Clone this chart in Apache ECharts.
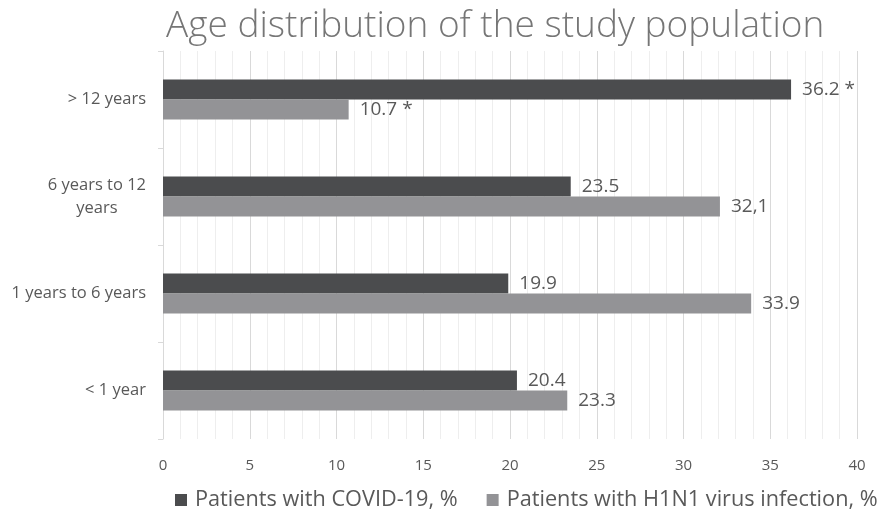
<!DOCTYPE html>
<html>
<head>
<meta charset="utf-8">
<script src="https://cdn.jsdelivr.net/npm/echarts@6/dist/echarts.min.js"></script>
<style>
html,body{margin:0;padding:0;background:#fff;}
#chart{width:891px;height:515px;}
</style>
</head>
<body>
<div id="chart"></div>
<script>
// Categories listed top to bottom
const categories = ['> 12 years', '6 years to 12 years', '1 years to 6 years', '< 1 year'];
const covidValues = [36.2, 23.5, 19.9, 20.4];
const h1n1Values = [10.7, 32.1, 33.9, 23.3];
const covidLabels = ['36.2 *', '23.5', '19.9', '20.4'];
const h1n1Labels = ['10.7 *', '32,1', '33.9', '23.3'];
const xTicks = [0, 5, 10, 15, 20, 25, 30, 35, 40];
const seriesNames = ['Patients with COVID-19, %', 'Patients with H1N1 virus infection, %'];

const chart = echarts.init(document.getElementById('chart'));
const txt = '#595959';
chart.setOption({
  animation: false,
  title: {
    text: 'Age distribution of the study population',
    left: 161, top: 3,
    textStyle: { fontFamily: 'Open Sans', fontWeight: 300, fontSize: 37, color: '#767676' }
  },
  legend: {
    data: seriesNames,
    top: 489, left: 175,
    itemWidth: 12, itemHeight: 12, itemGap: 29,
    icon: 'rect',
    textStyle: { fontFamily: 'Open Sans', fontSize: 21.7, color: txt, padding: [0,0,0,3] },
    padding: 0
  },
  grid: { left: 163, right: 34, top: 51, bottom: 76, containLabel: false },
  xAxis: {
    type: 'value', min: 0, max: 40, interval: 5,
    axisLine: { show: false }, axisTick: { show: false },
    axisLabel: { fontFamily: 'Open Sans', fontSize: 15, color: txt, margin: 19,
      formatter: v => xTicks.includes(v) ? String(v) : '' },
    splitLine: { show: true, lineStyle: { color: '#d9d9d9', width: 1 } },
    minorTick: { show: false, splitNumber: 5 },
    minorSplitLine: { show: true, lineStyle: { color: '#eeeeee', width: 1 } }
  },
  yAxis: {
    type: 'category', data: categories, inverse: true,
    axisLine: { show: true, lineStyle: { color: '#d9d9d9' } },
    axisTick: { show: true, length: 5, lineStyle: { color: '#d9d9d9' } },
    axisLabel: {
      fontFamily: 'Open Sans', fontSize: 16.5, color: txt, margin: 17,
      formatter: v => v === '6 years to 12 years' ? '{a|6 years to 12}\n{b|years}' : v,
      rich: {
        a: { fontFamily: 'Open Sans', fontSize: 16.5, color: txt, lineHeight: 23 },
        b: { fontFamily: 'Open Sans', fontSize: 16.5, color: txt, lineHeight: 23, width: 98, align: 'center' }
      }
    }
  },
  series: [
    {
      name: seriesNames[0], type: 'bar', data: covidValues,
      barWidth: 20, barGap: '0%',
      itemStyle: { color: '#4b4c4e' },
      label: { show: true, position: 'right', distance: 11,
        formatter: p => covidLabels[p.dataIndex],
        fontFamily: 'Open Sans', fontSize: 19, color: txt }
    },
    {
      name: seriesNames[1], type: 'bar', data: h1n1Values,
      barWidth: 20, barGap: '0%',
      itemStyle: { color: '#939396' },
      label: { show: true, position: 'right', distance: 11,
        formatter: p => h1n1Labels[p.dataIndex],
        fontFamily: 'Open Sans', fontSize: 19, color: txt }
    }
  ]
});
</script>
</body>
</html>
